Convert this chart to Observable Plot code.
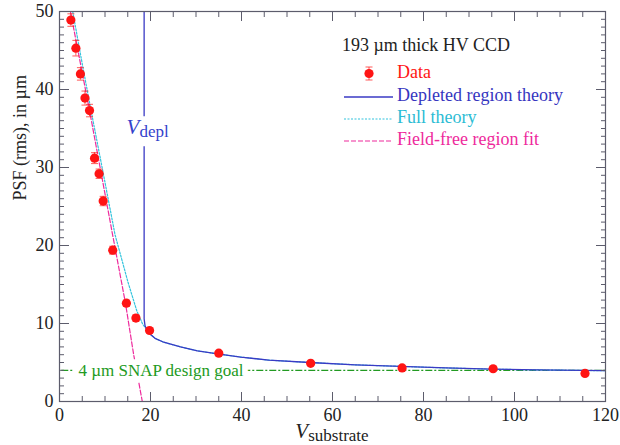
<!DOCTYPE html>
<html><head><meta charset="utf-8">
<script src="https://cdn.jsdelivr.net/npm/d3@7"></script>
<script src="https://cdn.jsdelivr.net/npm/@observablehq/plot@0.6"></script>
<style>
body{margin:0;background:#fff}
#wrap{position:relative;width:620px;height:445px}
#wrap svg.overlay{position:absolute;left:0;top:0;pointer-events:none}
</style>
</head><body><div id="wrap"></div>
<script>
// Measured data (V_substrate in volts, PSF rms in µm)
const dataV   = [2.5, 3.6, 4.6, 5.6, 6.6, 7.7, 8.7, 9.6, 11.7, 14.7, 16.8, 19.8, 35.0, 55.2, 75.3, 95.3, 115.5];
const dataPSF = [48.9, 45.3, 42.0, 38.9, 37.3, 31.2, 29.2, 25.7, 19.4, 12.6, 10.7, 9.1, 6.2, 4.9, 4.3, 4.2, 3.6];
const dataErr = [0.8, 1.0, 0.8, 0.9, 0.8, 0.7, 0.6, 0.6, 0.5, 0.4, 0.4, 0.3, 0.2, 0.2, 0.2, 0.2, 0.2];

// Depleted region theory
const deplV   = [18.6, 18.6, 18.8, 19.3, 20.0, 21.0, 22.9, 26.6, 30.3, 34.8, 39.8, 46.0, 55.0, 65.0, 75.0, 85.0, 95.0, 105.0, 120.0];
const deplPSF = [50.0, 10.6, 9.7, 9.1, 8.6, 8.1, 7.6, 7.0, 6.5, 6.1, 5.7, 5.3, 5.0, 4.7, 4.5, 4.3, 4.15, 4.05, 3.95];

// Full theory
const fullV   = [2.9, 4.9, 6.9, 9.6, 12.2, 15.0, 17.0, 18.3, 19.3, 20.0, 21.0, 22.9, 26.6, 30.3, 34.8, 39.8, 46.0, 55.0, 65.0, 75.0, 85.0, 95.0, 105.0, 120.0];
const fullPSF = [50.0, 43.6, 37.4, 29.3, 21.4, 15.4, 11.6, 9.9, 9.1, 8.6, 8.1, 7.6, 7.0, 6.5, 6.1, 5.7, 5.3, 5.0, 4.7, 4.5, 4.3, 4.15, 4.05, 3.95];

// Field-free region fit
const ffV   = [2.4, 6.6, 11.6, 14.5, 16.3, 18.2];
const ffPSF = [50.0, 37.3, 21.6, 12.6, 6.0, 0.0];

const vDepl = 18.6;
const goal = 4;
const xTicks = [0, 20, 40, 60, 80, 100, 120];
const yTicks = [0, 10, 20, 30, 40, 50];

const FONT = '"Liberation Serif", LiberationSerif, Tinos, "Times New Roman", Times, "DejaVu Serif", DejaVuSerif, "Noto Serif", FreeSerif, "Nimbus Roman", "Nimbus Roman No9 L", Georgia, serif';
const RED = "#ff1414", BLUE = "#3a3ac4", CYAN = "#33c4dd", PINK = "#ee2a9c", GREEN = "#229a22", AX = "#5c5c6c";

const pts = dataV.map((v, i) => ({x: v, y: dataPSF[i], e: dataErr[i]}));
const depl = deplV.map((v, i) => ({x: v, y: deplPSF[i]}));
const full = fullV.map((v, i) => ({x: v, y: fullPSF[i]}));
const ff = ffV.map((v, i) => ({x: v, y: ffPSF[i]}));

const xMinor = d3.range(0, 121, 5).filter(v => !xTicks.includes(v));
const yMinor = d3.range(0, 51, 1).filter(v => !yTicks.includes(v));

const cap = {draw(ctx) { ctx.moveTo(-3.5, 0); ctx.lineTo(3.5, 0); }};
const blank = () => "";

const chart = Plot.plot({
  width: 620, height: 445,
  marginTop: 11, marginRight: 15, marginBottom: 44, marginLeft: 59,
  x: {domain: [0, 120], label: null},
  y: {domain: [0, 50], label: null},
  style: {fontFamily: FONT, fontSize: "17px", color: "#222", background: "white"},
  marks: [
    Plot.ruleY([goal], {y: d => d, x1: 0.5, x2: 120, stroke: GREEN, strokeWidth: 1.3, strokeDasharray: "7,2,2,2"}),
    Plot.line(ff, {x: "x", y: "y", stroke: PINK, strokeWidth: 1.2, strokeDasharray: "5,2", clip: true}),
    Plot.line(full, {x: "x", y: "y", stroke: CYAN, strokeWidth: 1.2, strokeDasharray: "2,1.5", clip: true}),
    Plot.line(depl, {x: "x", y: "y", stroke: BLUE, strokeWidth: 1.3, clip: true}),
    Plot.text([goal], {y: d => d, frameAnchor: "left", dx: 19, textAnchor: "start", text: d => `${d} µm SNAP design goal`,
      fill: GREEN, stroke: "white", strokeWidth: 12, paintOrder: "stroke", fontSize: 17}),
    Plot.ruleX(pts, {x: "x", y1: d => d.y - d.e, y2: d => d.y + d.e, stroke: RED, strokeWidth: 1, strokeOpacity: 0.7}),
    Plot.dot(pts, {x: "x", y: d => d.y + d.e, symbol: cap, stroke: RED, strokeWidth: 1, strokeOpacity: 0.7}),
    Plot.dot(pts, {x: "x", y: d => d.y - d.e, symbol: cap, stroke: RED, strokeWidth: 1, strokeOpacity: 0.7}),
    Plot.dot(pts, {x: "x", y: "y", r: 4.6, fill: RED, stroke: "none"}),
    // inward ticks
    Plot.axisX({ticks: xTicks, anchor: "bottom", tickSize: 9, dy: -9, tickFormat: blank, stroke: AX, label: null}),
    Plot.axisX({ticks: xMinor, anchor: "bottom", tickSize: 5, dy: -5, tickFormat: blank, stroke: AX, label: null}),
    Plot.axisX({ticks: xTicks, anchor: "top", tickSize: 9, dy: 9, tickFormat: blank, stroke: AX, label: null}),
    Plot.axisX({ticks: xMinor, anchor: "top", tickSize: 5, dy: 5, tickFormat: blank, stroke: AX, label: null}),
    Plot.axisY({ticks: yTicks, anchor: "left", tickSize: 10, dx: 10, tickFormat: blank, stroke: AX, label: null}),
    Plot.axisY({ticks: yMinor, anchor: "left", tickSize: 5, dx: 5, tickFormat: blank, stroke: AX, label: null}),
    Plot.axisY({ticks: yTicks, anchor: "right", tickSize: 10, dx: -10, tickFormat: blank, stroke: AX, label: null}),
    Plot.axisY({ticks: yMinor, anchor: "right", tickSize: 5, dx: -5, tickFormat: blank, stroke: AX, label: null}),
    // tick labels
    Plot.axisX({ticks: xTicks, anchor: "bottom", tickSize: 0, tickPadding: 7, label: null, fill: "#222", fontSize: 18}),
    Plot.axisY({ticks: yTicks, anchor: "left", tickSize: 0, tickPadding: 6, label: null, fill: "#222", fontSize: 18}),
    Plot.text(["PSF (rms), in µm"], {frameAnchor: "left", rotate: -90, dx: -39, dy: -6, fill: "#222", fontSize: 18}),
    Plot.frame({stroke: AX, strokeWidth: 1.2})
  ]
});

const wrap = document.getElementById("wrap");
wrap.appendChild(chart);

const sx = chart.scale("x"), sy = chart.scale("y");
const xl = sx.apply(vDepl);
const xs = sx.apply(60);
const yd = sy.apply(34.2);
const NS = "http://www.w3.org/2000/svg";
const ov = document.createElementNS(NS, "svg");
ov.setAttribute("class", "overlay");
ov.setAttribute("width", 620); ov.setAttribute("height", 445);
ov.style.fontFamily = FONT;
ov.innerHTML = `
  <rect x="${xl - 20}" y="${yd - 18}" width="48" height="30" fill="white"/>
  <text x="${xl + 4}" y="${yd}" text-anchor="middle" fill="#3442cc"><tspan font-style="italic" font-size="21">V</tspan><tspan font-size="17" dy="3">depl</tspan></text>
  <text x="${xs}" y="438" text-anchor="middle" fill="#222"><tspan font-style="italic" font-size="21">V</tspan><tspan font-size="17" dy="3">substrate</tspan></text>
  <text x="342" y="51" font-size="18" fill="#222">193 µm thick HV CCD</text>
  <line x1="369" x2="369" y1="67" y2="80" stroke="${RED}" stroke-opacity="0.7"/>
  <line x1="365.5" x2="372.5" y1="67" y2="67" stroke="${RED}" stroke-opacity="0.7"/>
  <line x1="365.5" x2="372.5" y1="80" y2="80" stroke="${RED}" stroke-opacity="0.7"/>
  <circle cx="369" cy="73.5" r="4.6" fill="${RED}"/>
  <text x="397" y="78" font-size="18" fill="${RED}">Data</text>
  <line x1="344" x2="393" y1="97" y2="97" stroke="${BLUE}" stroke-width="1.3"/>
  <text x="397" y="101" font-size="18" fill="#3535c0">Depleted region theory</text>
  <line x1="344" x2="393" y1="119" y2="119" stroke="${CYAN}" stroke-width="1.2" stroke-dasharray="2,1.5"/>
  <text x="397" y="123" font-size="18" fill="#2cbcd4">Full theory</text>
  <line x1="344" x2="393" y1="141" y2="141" stroke="${PINK}" stroke-width="1.2" stroke-dasharray="5,2"/>
  <text x="397" y="145" font-size="18" fill="${PINK}">Field-free region fit</text>
`;
wrap.appendChild(ov);
</script>
</body></html>
